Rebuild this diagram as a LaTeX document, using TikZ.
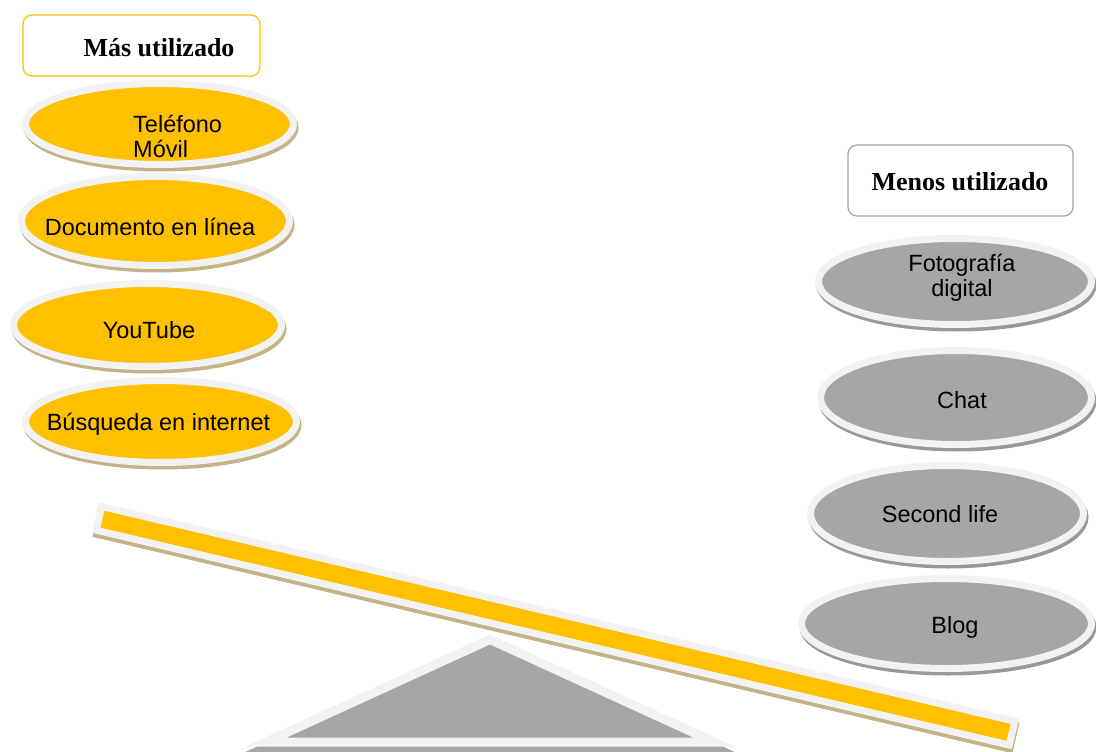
\documentclass[tikz,border=0pt]{standalone}
\usepackage{fontspec}
\setmainfont{Liberation Serif}
\setsansfont{Liberation Sans}
\usetikzlibrary{shapes.geometric, shadows}

\definecolor{amber}{HTML}{FFC000}
\definecolor{rim}{HTML}{F2F2F2}
\definecolor{khaki}{HTML}{C4B386}
\definecolor{stone}{HTML}{A6A6A6}
\definecolor{stoneshade}{HTML}{999999}

\begin{document}
\begin{tikzpicture}[x=1pt, y=-1pt,
  disc/.style={ellipse, inner sep=0pt, draw=rim, line width=7pt},
  hotdisc/.style={disc, fill=amber,
    drop shadow={shadow xshift=1.5pt, shadow yshift=-3.5pt, fill=khaki, draw=khaki, line width=7pt, opacity=1}},
  colddisc/.style={disc, fill=stone,
    drop shadow={shadow xshift=1.5pt, shadow yshift=-3.5pt, fill=stoneshade, draw=stoneshade, line width=7pt, opacity=1}},
  titlebox/.style={draw, fill=white, rounded corners=9pt, line width=1.3pt, inner sep=0pt},
  titletext/.style={font=\bfseries\fontsize{26}{30}\selectfont, inner sep=0pt},
  disctext/.style={font=\sffamily\fontsize{23.5}{25}\selectfont, inner sep=0pt, align=center}
]
\useasboundingbox (0,0) rectangle (1096,752);

% fulcrum
\filldraw[stone, line width=9pt] (490,645) -- (266,747.5) -- (714,747.5) -- cycle;
\filldraw[fill=stone, draw=rim, line width=9pt] (490,639.5) -- (266,742) -- (714,742) -- cycle;

\node[disc, fill=amber, rectangle, rotate=-13.24, minimum width=938pt, minimum height=24.4pt,
  drop shadow={shadow xshift=0.5pt, shadow yshift=-4pt, fill=khaki, draw=khaki, line width=7pt, opacity=1}]
  (plank) at (555.5,625.75) {};

\node[titlebox, draw=amber, minimum width=237pt, minimum height=61pt] (mostbox) at (141.5,45.5) {};
\node[titletext, anchor=base] (most) at (159,57) {Más utilizado};
\node[titlebox, draw=stone, minimum width=225pt, minimum height=71pt] (leastbox) at (960.5,180.5) {};
\node[titletext, anchor=base] (least) at (960,190) {Menos utilizado};

\node[hotdisc, minimum width=268pt, minimum height=81pt] (phone) at (159.5,124) {};
\node[hotdisc, minimum width=268pt, minimum height=89pt] (doc) at (155.5,221) {};
\node[hotdisc, minimum width=268pt, minimum height=83pt] (yt) at (147.5,325) {};
\node[hotdisc, minimum width=271pt, minimum height=82pt] (search) at (161,421.5) {};

\node[colddisc, minimum width=273pt, minimum height=86pt] (photo) at (955,281.5) {};
\node[colddisc, minimum width=271pt, minimum height=94pt] (chat) at (956,397.5) {};
\node[colddisc, minimum width=273pt, minimum height=96pt] (sl) at (947,513.5) {};
\node[colddisc, minimum width=290pt, minimum height=90pt] (blog) at (946.5,623.5) {};

\node[disctext, align=left, anchor=west] (phonetext) at (133,136.5) {Teléfono\\Móvil};
\node[disctext, anchor=base] (doctext) at (150,235) {Documento en línea};
\node[disctext, anchor=base] (yttext) at (149,338) {YouTube};
\node[disctext, anchor=base] (searchtext) at (158.5,430) {Búsqueda en internet};

\node[disctext] (phototext) at (962,277.5) {Fotografía\\digital};
\node[disctext, anchor=base] (chattext) at (962,408) {Chat};
\node[disctext, anchor=base] (sltext) at (940,522) {Second life};
\node[disctext, anchor=base] (blogtext) at (955,633) {Blog};
\end{tikzpicture}
\end{document}
